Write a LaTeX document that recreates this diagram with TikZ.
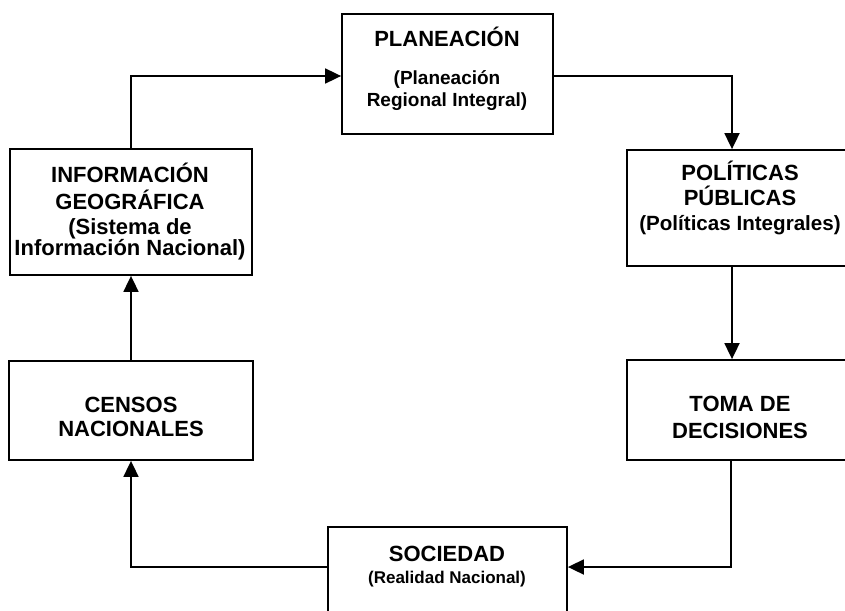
\documentclass[tikz,border=0pt]{standalone}
\usepackage{fontspec}
\setmainfont{Liberation Sans}
\usetikzlibrary{arrows.meta}
\newcommand{\letrasub}[1]{\fontsize{#1}{22}\selectfont}
\tikzset{caja/.style = {draw, line width=1.8pt, inner sep=0pt},
         texto/.style = {align=center, inner sep=0pt,
                         font=\fontsize{22}{25}\selectfont\bfseries},
         flecha/.style = {line width=1.8pt,
                          -{Triangle[length=16pt,width=15pt]}}}

\begin{document}
\begin{tikzpicture}[x=1pt, y=-1pt]
    \useasboundingbox (0,0) rectangle (845,610);

    % cajas
    \node [caja, minimum width=211pt, minimum height=120pt] (plan) at (447.5,74) {};
    \node [caja, minimum width=226pt, minimum height=116pt] (pol) at (740,208) {};
    \node [caja, minimum width=226pt, minimum height=100pt] (toma) at (740,410) {};
    \node [caja, minimum width=239pt, minimum height=90pt] (soc) at (447.5,572) {};
    \node [caja, minimum width=244pt, minimum height=99pt] (cens) at (131,410.5) {};
    \node [caja, minimum width=242pt, minimum height=126pt] (info) at (131,212) {};

    % textos
    \node [texto] (planT) at (447,69)
      {PLANEACIÓN\\[13pt]\letrasub{19}(Planeación\\[-3pt]\letrasub{19}Regional Integral)};
    \node [texto] (polT) at (740,198)
      {POLÍTICAS\\PÚBLICAS\\\letrasub{20.6}(Políticas Integrales)};
    \node [texto] (tomaT) at (740,417) {TOMA DE\\[2pt]DECISIONES};
    \node [texto] (socT) at (447,567)
      {SOCIEDAD\\[-3pt]\letrasub{17}(Realidad Nacional)};
    \node [texto] (censT) at (131,417) {CENSOS\\[-1pt]NACIONALES};
    \node [texto] (infoT) at (130,212)
      {INFORMACIÓN\\[2pt]GEOGRÁFICA\\\letrasub{22}(Sistema de\\[-4pt]\letrasub{22}Información Nacional)};

    % conectores
    \coordinate (giro) at (731,567);
    \draw [flecha] (info.north) |- ([yshift=-2pt]plan.west);
    \draw [flecha] ([yshift=-2pt]plan.east) -| ([xshift=-8pt]pol.north);
    \draw [flecha] ([xshift=-8pt]pol.south) -- ([xshift=-8pt]toma.north);
    \draw [flecha] (toma.south -| giro) |- (soc.east |- giro);
    \draw [flecha] (soc.west |- giro) -| (cens.south);
    \draw [flecha] (cens.north) -- (info.south);
\end{tikzpicture}
\end{document}
